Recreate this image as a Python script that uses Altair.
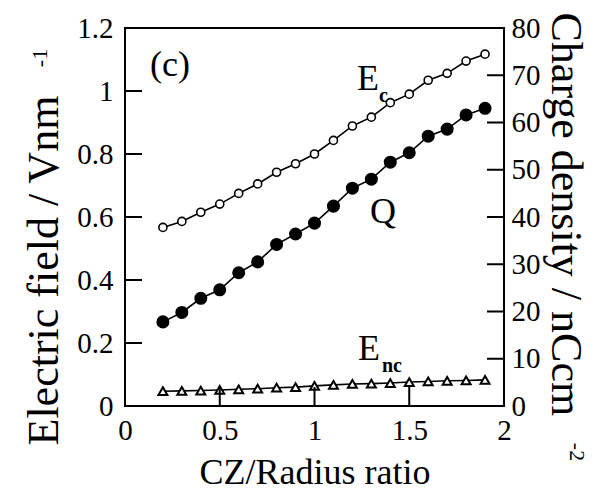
import altair as alt
import pandas as pd

# ---------------- data ----------------
ratio = [0.2, 0.3, 0.4, 0.5, 0.6, 0.7, 0.8, 0.9, 1.0, 1.1, 1.2, 1.3, 1.4, 1.5, 1.6, 1.7, 1.8, 1.9]
e_c = [0.567, 0.586, 0.615, 0.641, 0.675, 0.705, 0.742, 0.769, 0.800, 0.843,
       0.889, 0.917, 0.963, 0.990, 1.034, 1.056, 1.095, 1.117]
charge = [17.8, 19.8, 22.8, 24.6, 28.2, 30.5, 34.2, 36.4, 38.7, 42.3,
          46.1, 48.0, 51.6, 53.6, 57.1, 58.6, 61.6, 63.0]
e_nc = [0.047, 0.048, 0.049, 0.051, 0.053, 0.055, 0.058, 0.060, 0.064, 0.067,
        0.070, 0.071, 0.073, 0.076, 0.078, 0.080, 0.081, 0.083]

x_labels = [0, 0.5, 1, 1.5, 2]
left_labels = [0, 0.2, 0.4, 0.6, 0.8, 1.0, 1.2]
right_labels = [0, 10, 20, 30, 40, 50, 60, 70, 80]
x_inner_ticks = [0.5, 1.0, 1.5]
left_inner_ticks = [0.2, 0.4, 0.6, 0.8, 1.0]
right_inner_ticks = [10, 20, 30, 40, 50, 60, 70]

big_labels = ["E", "Q", "E"]
big_x = [1.224, 1.293, 1.230]
big_y = [1.003, 0.581, 0.146]
sub_labels = ["c", "nc"]
sub_x = [1.340, 1.356]
sub_y = [0.965, 0.108]
panel_label = ["(c)"]
panel_x = [0.132]
panel_y = [1.048]

# ---------------- layout ----------------
W, H = 379, 378
FONT = "Liberation Serif"
TICK_FS = 29
TITLE_FS = 36
YTITLE_FS = 44

df = pd.DataFrame({"ratio": ratio, "ec": e_c, "q": charge, "enc": e_nc})

xs = alt.Scale(domain=[0, 2], nice=False, zero=False)
ysl = alt.Scale(domain=[0, 1.2], nice=False, zero=False)
ysr = alt.Scale(domain=[0, 80], nice=False, zero=False)

common_axis = dict(grid=False, ticks=False, tickSize=0, domain=False,
                   labelFont=FONT, labelFontSize=TICK_FS, labelColor="black",
                   labelOverlap=False, labelFlush=False,
                   titleFont=FONT, titleFontWeight="normal", titleColor="black")

x_axis = alt.Axis(values=x_labels, format="~g", labelPadding=10,
                  titleFontSize=TITLE_FS, titleY=77, titleBaseline="alphabetic",
                  **common_axis)
yl_axis = alt.Axis(values=left_labels, format="~g", labelPadding=12, orient="left",
                   titleFontSize=YTITLE_FS, titleAngle=270, titleAlign="left",
                   titleBaseline="alphabetic", titleX=-68, titleY=417,
                   **common_axis)
yr_axis = alt.Axis(values=right_labels, format="d", labelPadding=7, orient="right",
                   titleFontSize=YTITLE_FS, titleAngle=90, titleAlign="left",
                   titleBaseline="alphabetic", titleX=47, titleY=-16,
                   **common_axis)

XT = "CZ/Radius ratio"
YLT = "Electric field / Vnm"
YRT = "Charge density / nCcm"


def X(field):
    return alt.X(f"{field}:Q", scale=xs, axis=x_axis, title=XT)


def YL(field):
    return alt.Y(f"{field}:Q", scale=ysl, axis=yl_axis, title=YLT)


def YR(field):
    return alt.Y(f"{field}:Q", scale=ysr, axis=yr_axis, title=YRT)


base = alt.Chart(df)

ec_line = base.mark_line(color="black", strokeWidth=1.6).encode(x=X("ratio"), y=YL("ec"))
ec_pts = base.mark_point(shape="circle", filled=True, fill="white", stroke="black",
                         strokeWidth=1.6, size=65, opacity=1).encode(x=X("ratio"), y=YL("ec"))
enc_line = base.mark_line(color="black", strokeWidth=1.6).encode(x=X("ratio"), y=YL("enc"))
enc_pts = base.mark_point(shape="triangle-up", filled=True, fill="white", stroke="black",
                          strokeWidth=2, size=80, opacity=1).encode(x=X("ratio"), y=YL("enc"))

lt_df = pd.DataFrame({"v": left_inner_ticks})
left_ticks = alt.Chart(lt_df).mark_rule(color="black", strokeWidth=2).encode(
    y=YL("v"), x=alt.value(0), x2=alt.value(17))

xt_df = pd.DataFrame({"v": x_inner_ticks})
bottom_ticks = alt.Chart(xt_df).mark_rule(color="black", strokeWidth=2).encode(
    x=X("v"), y=alt.value(H), y2=alt.value(H - 19))

big_df = pd.DataFrame({"t": big_labels, "x": big_x, "y": big_y})
big_txt = alt.Chart(big_df).mark_text(font=FONT, fontSize=36, align="left",
                                      baseline="alphabetic", color="black").encode(
    x=X("x"), y=YL("y"), text="t:N")

sub_df = pd.DataFrame({"t": sub_labels, "x": sub_x, "y": sub_y})
sub_txt = alt.Chart(sub_df).mark_text(font=FONT, fontSize=20, fontWeight="bold", align="left",
                                      baseline="alphabetic", color="black").encode(
    x=X("x"), y=YL("y"), text="t:N")

pan_df = pd.DataFrame({"t": panel_label, "x": panel_x, "y": panel_y})
pan_txt = alt.Chart(pan_df).mark_text(font=FONT, fontSize=36, align="left",
                                      baseline="alphabetic", color="black").encode(
    x=X("x"), y=YL("y"), text="t:N")

sup1 = alt.Chart(pd.DataFrame({"t": ["-1"]})).mark_text(
    font=FONT, fontSize=22, angle=270, align="center", baseline="middle", color="black").encode(
    x=alt.value(-85), y=alt.value(30), text="t:N")
sup2 = alt.Chart(pd.DataFrame({"t": ["-2"]})).mark_text(
    font=FONT, fontSize=22, angle=90, align="center", baseline="middle", color="black").encode(
    x=alt.value(452), y=alt.value(424), text="t:N")

left = alt.layer(ec_line, enc_line, ec_pts, enc_pts, left_ticks, bottom_ticks,
                 big_txt, sub_txt, pan_txt, sup1, sup2)

q_line = base.mark_line(color="black", strokeWidth=1.6).encode(x=X("ratio"), y=YR("q"))
q_pts = base.mark_circle(color="black", size=170, opacity=1).encode(x=X("ratio"), y=YR("q"))
rt_df = pd.DataFrame({"v": right_inner_ticks})
right_ticks = alt.Chart(rt_df).mark_rule(color="black", strokeWidth=2).encode(
    y=YR("v"), x=alt.value(W - 17), x2=alt.value(W))

right = alt.layer(q_line, q_pts, right_ticks)

chart = alt.layer(left, right).resolve_scale(y="independent").properties(
    width=W, height=H,
    autosize=alt.AutoSizeParams(type="none"),
    padding={"left": 117, "top": 20, "right": 86, "bottom": 85},
    background="white",
).configure_view(stroke="black", strokeWidth=2)

chart.save("out.html", embed_options={"renderer": "svg", "actions": False})
